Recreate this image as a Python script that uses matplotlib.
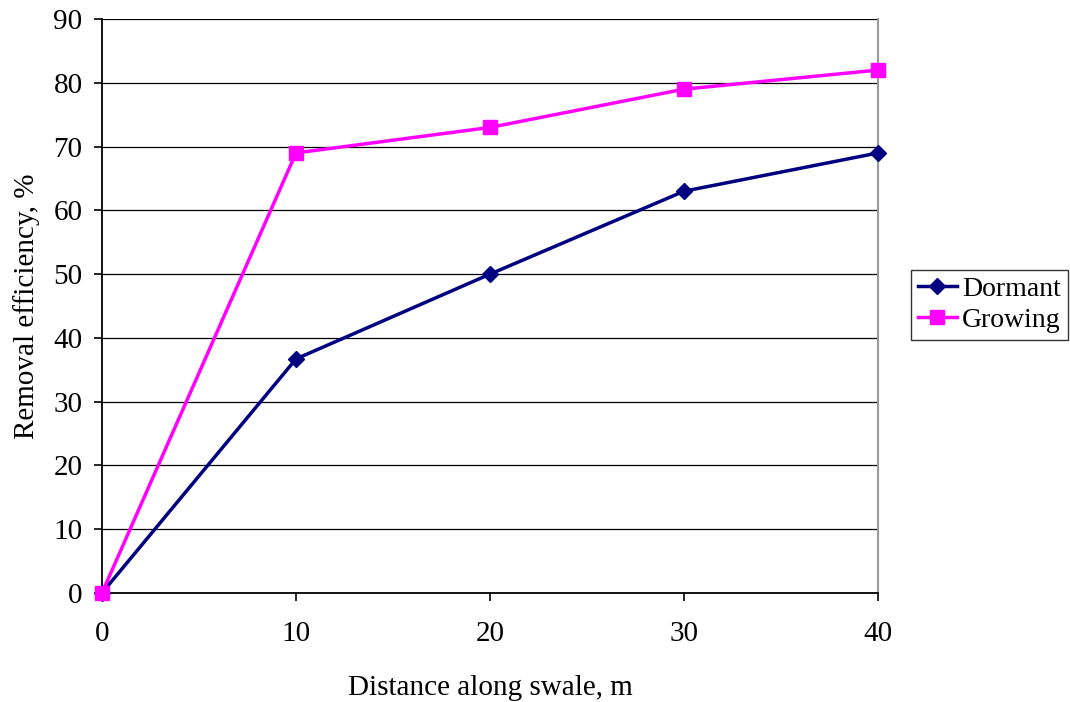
import matplotlib.pyplot as plt

plt.rcParams['font.family'] = ['Liberation Serif', 'DejaVu Serif']

distance = [0, 10, 20, 30, 40]
dormant = [0, 36.7, 50, 63, 69]
growing = [0, 69, 73, 79, 82]

fig = plt.figure(figsize=(10.7, 7.02), dpi=100)
ax = fig.add_axes([0.0953, 0.1553, 0.7253, 0.8176])

for y in range(10, 91, 10):
    ax.axhline(y, color='black', lw=0.9, zorder=1)

ax.plot(distance, dormant, color='#000080', lw=2.5, marker='D', markersize=8,
        label='Dormant', zorder=3, clip_on=False)
ax.plot(distance, growing, color='#FF00FF', lw=2.5, marker='s', markersize=9.5,
        label='Growing', zorder=3, clip_on=False)

ax.set_xlim(0, 40)
ax.set_ylim(0, 90)
ax.set_xticks(range(0, 41, 10))
ax.set_yticks(range(0, 91, 10))
ax.tick_params(direction='out', length=6, width=1.2, labelsize=21, pad=8)
ax.tick_params(axis='x', pad=14)

ax.spines['left'].set_color('black')
ax.spines['bottom'].set_color('black')
ax.spines['left'].set_linewidth(1.3)
ax.spines['bottom'].set_linewidth(1.3)
ax.spines['right'].set_color('#999999')
ax.spines['top'].set_visible(False)
ax.spines['right'].set_linewidth(1.5)

ax.set_xlabel('Distance along swale, m', fontsize=21, labelpad=20)
ax.set_ylabel('Removal efficiency, %', fontsize=21, labelpad=10)

leg = fig.legend(loc='center right', bbox_to_anchor=(0.998, 0.566), fontsize=20,
                 frameon=True, fancybox=False, edgecolor='black', borderpad=0.25,
                 handlelength=1.4, handletextpad=0.2, labelspacing=0.2,
                 borderaxespad=0)
leg.get_frame().set_linewidth(1.0)

plt.savefig('out.png', dpi=100)
